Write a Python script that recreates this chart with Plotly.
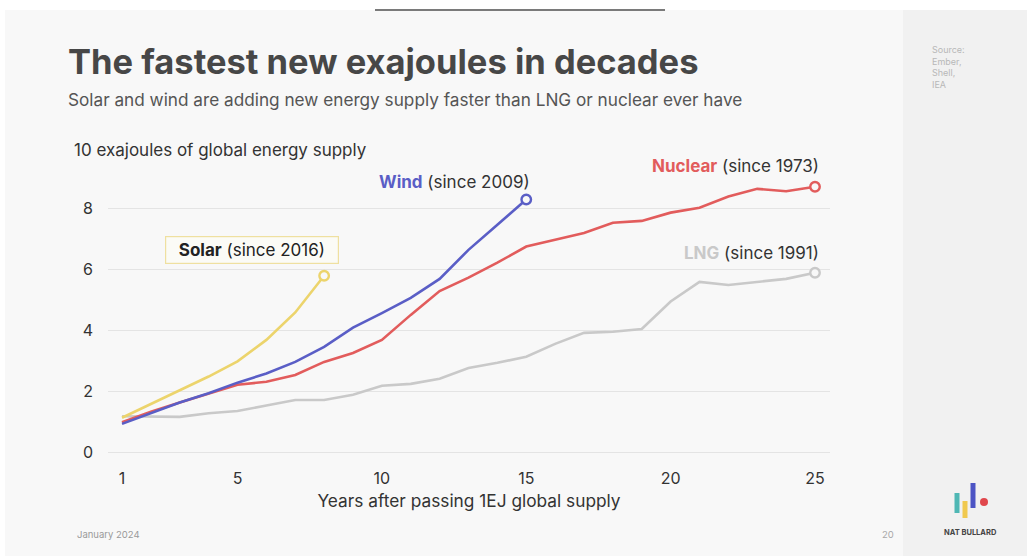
import plotly.graph_objects as go

years_solar = list(range(1, 9))
solar = [1.15, 1.6, 2.05, 2.5, 3.0, 3.7, 4.6, 5.8]
years_wind = list(range(1, 16))
wind = [0.95, 1.3, 1.65, 1.95, 2.3, 2.6, 2.98, 3.47, 4.1, 4.58, 5.08, 5.7, 6.65, 7.47, 8.3]
years_nuclear = list(range(1, 26))
nuclear = [1.0, 1.35, 1.65, 1.95, 2.23, 2.33, 2.55, 2.98, 3.27, 3.7, 4.52, 5.3, 5.74, 6.23,
           6.76, 6.98, 7.2, 7.54, 7.6, 7.87, 8.03, 8.4, 8.65, 8.57, 8.72]
years_lng = list(range(1, 26))
lng = [1.2, 1.2, 1.18, 1.3, 1.37, 1.55, 1.73, 1.73, 1.9, 2.2, 2.26, 2.43, 2.78, 2.95,
       3.15, 3.57, 3.93, 3.97, 4.06, 4.96, 5.6, 5.5, 5.6, 5.7, 5.9]
x_ticks = [1, 5, 10, 15, 20, 25]
y_ticks = [0, 2, 4, 6, 8]

C_SOLAR = "#ecd46c"
C_WIND = "#5a5ec6"
C_NUC = "#e25c5c"
C_LNG = "#c9c9c9"

W, H = 1027, 556
ML, MR, MT, MB = 108, 197, 169, 94
PW, PH = W - ML - MR, H - MT - MB


def px(x):
    return (x - ML) / PW


def py(y):
    return (H - MB - y) / PH


fig = go.Figure()
series = [(years_lng, lng, C_LNG), (years_solar, solar, C_SOLAR),
          (years_nuclear, nuclear, C_NUC), (years_wind, wind, C_WIND)]
for xs, ys, c in series:
    fig.add_trace(go.Scatter(x=xs, y=ys, mode="lines", line=dict(color=c, width=2.6),
                             hoverinfo="skip", showlegend=False))
    fig.add_trace(go.Scatter(x=[xs[-1]], y=[ys[-1]], mode="markers",
                             marker=dict(size=9.5, color="#f8f8f8",
                                         line=dict(color=c, width=2.4)),
                             hoverinfo="skip", showlegend=False))

shapes = [
    # slide background
    dict(type="rect", xref="paper", yref="paper", x0=px(5), x1=px(W), y0=py(H), y1=py(10),
         fillcolor="#f8f8f8", line=dict(width=0), layer="below"),
    # right panel
    dict(type="rect", xref="paper", yref="paper", x0=px(903), x1=px(W), y0=py(H), y1=py(10),
         fillcolor="#f1f1f1", line=dict(width=0), layer="below"),
    # top bar
    dict(type="line", xref="paper", yref="paper", x0=px(375), x1=px(665), y0=py(10), y1=py(10),
         line=dict(color="#7a7a7a", width=2)),
    # logo bars
    dict(type="line", xref="paper", yref="paper", x0=px(957), x1=px(957), y0=py(513), y1=py(493),
         line=dict(color="#4fb7b4", width=5)),
    dict(type="line", xref="paper", yref="paper", x0=px(965), x1=px(965), y0=py(518), y1=py(501),
         line=dict(color="#f0c94f", width=5)),
    dict(type="line", xref="paper", yref="paper", x0=px(973), x1=px(973), y0=py(508), y1=py(483),
         line=dict(color="#4c54c4", width=5)),
    dict(type="circle", xref="paper", yref="paper", x0=px(980), x1=px(988), y0=py(506), y1=py(498),
         fillcolor="#e0474c", line=dict(width=0)),
]

F = "Inter, Roboto, sans-serif"
LS = 17
ann = [
    dict(text="<b>The fastest new exajoules in decades</b>", x=px(66), y=py(61), xanchor="left",
         yanchor="middle", font=dict(size=34.5, color="#474747", family=F)),
    dict(text="Solar and wind are adding new energy supply faster than LNG or nuclear ever have",
         x=px(66), y=py(99), xanchor="left", yanchor="middle",
         font=dict(size=17.2, color="#555555", family=F)),
    dict(text="10 exajoules of global energy supply", x=px(72), y=py(150), xanchor="left",
         yanchor="middle", font=dict(size=LS, color="#333333", family=F)),
    dict(text="<span style='color:%s'><b>Wind</b></span> (since 2009)" % C_WIND, x=px(532), y=py(182),
         xanchor="right", yanchor="middle", font=dict(size=LS, color="#333333", family=F)),
    dict(text="<span style='color:%s'><b>Nuclear</b></span> (since 1973)" % C_NUC, x=px(821), y=py(166),
         xanchor="right", yanchor="middle", font=dict(size=LS, color="#333333", family=F)),
    dict(text="<span style='color:%s'><b>LNG</b></span> (since 1991)" % C_LNG, x=px(821), y=py(253),
         xanchor="right", yanchor="middle", font=dict(size=LS, color="#333333", family=F)),
    dict(text="&nbsp;&nbsp;<b>Solar</b> (since 2016)&nbsp;&nbsp;", x=px(252), y=py(250),
         xanchor="center", yanchor="middle",
         font=dict(size=LS, color="#222222", family=F), bordercolor="#efe0a0", borderwidth=1.2,
         borderpad=3, bgcolor="#fbfbf6"),
    dict(text="Source:<br>Ember,<br>Shell,<br>IEA", x=px(930), y=py(42), xanchor="left", yanchor="top",
         align="left", font=dict(size=9, color="#b8b8b8", family=F)),
    dict(text="January 2024", x=px(75), y=py(534), xanchor="left", yanchor="middle",
         font=dict(size=9.5, color="#9a9a9a", family=F)),
    dict(text="20", x=px(888), y=py(534), xanchor="center", yanchor="middle",
         font=dict(size=9.5, color="#a8a8a8", family=F)),
    dict(text="<b>NAT BULLARD</b>", x=px(970), y=py(532), xanchor="center", yanchor="middle",
         font=dict(size=7.5, color="#444444", family=F)),
]
for a in ann:
    a.update(xref="paper", yref="paper", showarrow=False)

fig.update_layout(
    width=W, height=H, margin=dict(l=ML, r=MR, t=MT, b=MB),
    paper_bgcolor="white", plot_bgcolor="rgba(0,0,0,0)",
    shapes=shapes, annotations=ann, showlegend=False,
    font=dict(family=F, color="#333333"),
)
fig.update_xaxes(range=[1 - 14 / 28.875, 25 + 15 / 28.875], tickvals=x_ticks, showgrid=False,
                 zeroline=False, showline=False, ticks="", tickfont=dict(size=16, color="#333333"),
                 ticklabelstandoff=5,
                 title=dict(text="Years after passing 1EJ global supply", font=dict(size=17.3, color="#333333"),
                            standoff=7))
fig.update_yaxes(range=[-0.3, 9.3], tickvals=y_ticks, showgrid=True, gridcolor="#e4e4e4", gridwidth=1,
                 zeroline=False, showline=False, ticks="", tickfont=dict(size=16, color="#333333"),
                 ticklabelstandoff=14)

fig.write_html("out.html")
